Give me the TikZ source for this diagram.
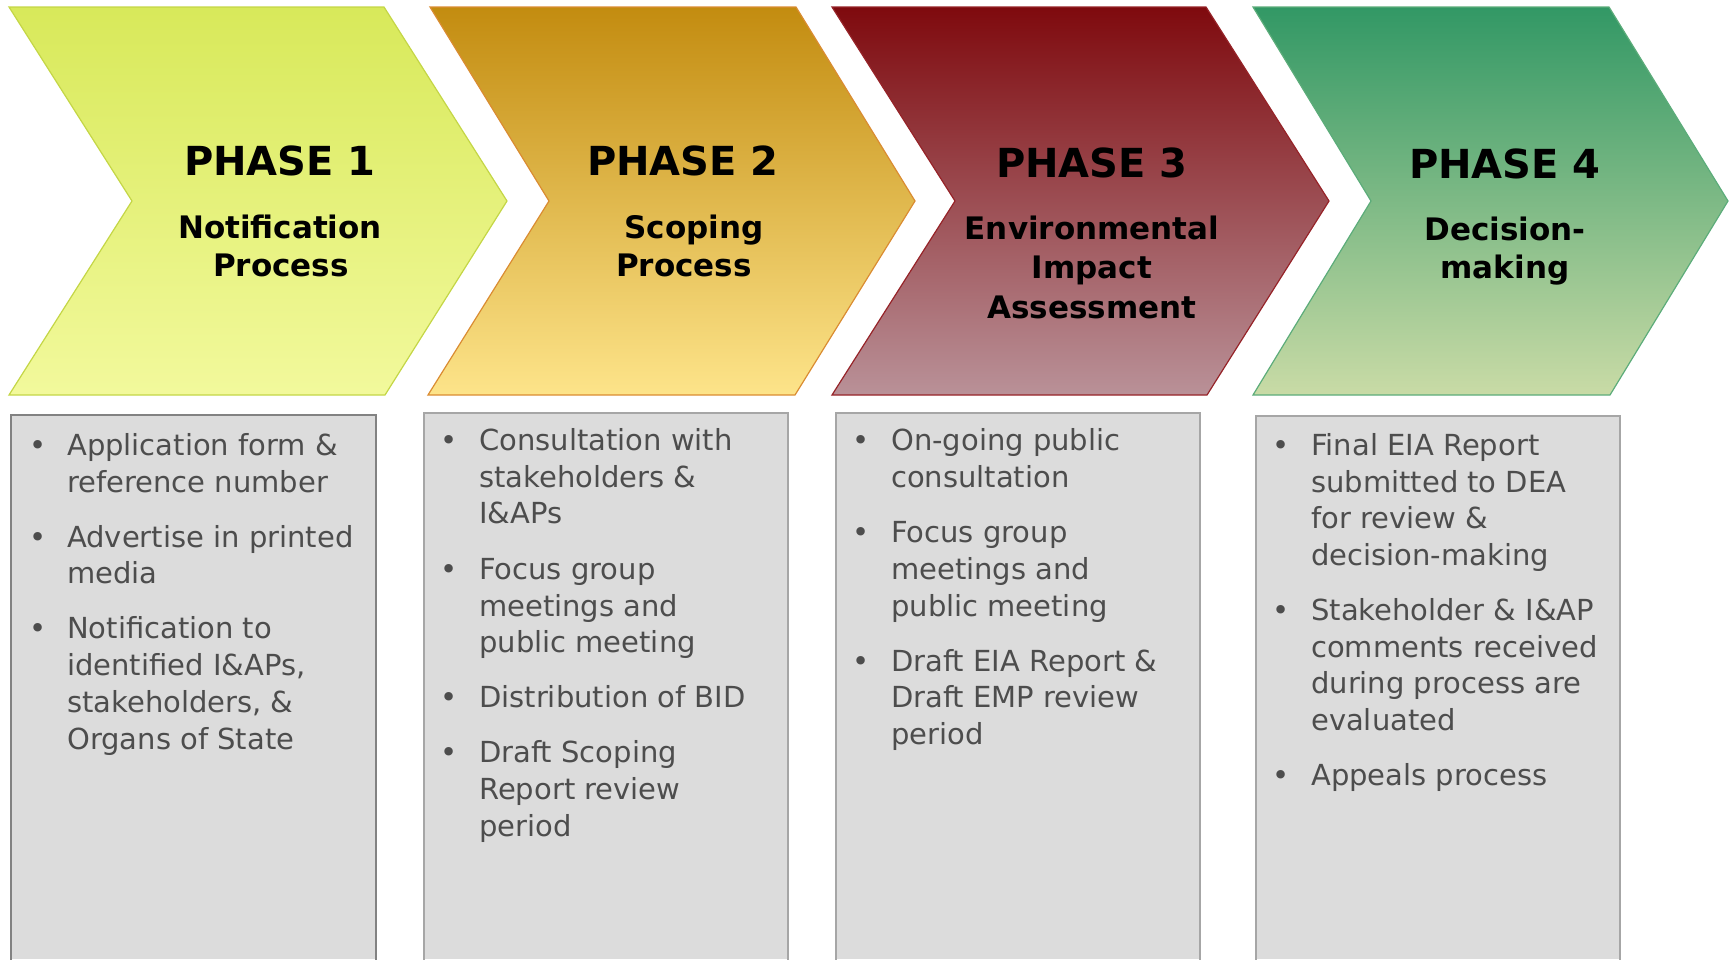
\documentclass[tikz,border=0pt]{standalone}
\usepackage{fontspec}
\setmainfont{DejaVu Sans}
\definecolor{aTop}{RGB}{216,233,90}
\definecolor{aBot}{RGB}{242,249,156}
\definecolor{aLine}{RGB}{196,214,70}
\definecolor{bTop}{RGB}{195,140,16}
\definecolor{bBot}{RGB}{253,228,138}
\definecolor{bLine}{RGB}{218,140,50}
\definecolor{cTop}{RGB}{127,10,14}
\definecolor{cBot}{RGB}{185,145,152}
\definecolor{cLine}{RGB}{150,35,40}
\definecolor{dTop}{RGB}{50,152,101}
\definecolor{dBot}{RGB}{201,219,166}
\definecolor{dLine}{RGB}{92,172,122}
\definecolor{boxFill}{RGB}{220,220,220}
\definecolor{boxLineA}{RGB}{130,130,130}
\definecolor{boxLineB}{RGB}{166,166,166}
\definecolor{bodyText}{RGB}{77,77,77}
\tikzset{
  phase/.style={inner sep=0pt, anchor=base, font=\fontsize{40}{40}\selectfont\bfseries, text=black},
  sub/.style={inner sep=0pt, anchor=base, font=\fontsize{31}{31}\selectfont\bfseries, text=black},
  bodyline/.style={inner sep=0pt, anchor=base west, font=\fontsize{29}{34}\selectfont, text=bodyText},
  bulletmark/.style={inner sep=0pt, anchor=base, font=\fontsize{29}{34}\selectfont, text=bodyText},
  boxfill/.style={fill=boxFill},
}
\begin{document}
\begin{tikzpicture}[x=1pt,y=-1pt]
\useasboundingbox (0,0) rectangle (1729,959);
% chevrons
\draw[draw=aLine, line width=1.2pt, top color=aTop, bottom color=aBot]
  (9,7) -- (384,7) -- (507,201) -- (385,395) -- (9,395) -- (132,201) -- cycle;
\draw[draw=bLine, line width=1.2pt, top color=bTop, bottom color=bBot]
  (430,7) -- (796,7) -- (915,201) -- (795,395) -- (428,395) -- (549,201) -- cycle;
\draw[draw=cLine, line width=1.2pt, top color=cTop, bottom color=cBot]
  (832,7) -- (1206,7) -- (1329,201) -- (1207,395) -- (832,395) -- (955,201) -- cycle;
\draw[draw=dLine, line width=1.2pt, top color=dTop, bottom color=dBot]
  (1253,7) -- (1609,7) -- (1728,201) -- (1610,395) -- (1253,395) -- (1371,201) -- cycle;
% titles
\node[phase] (p1) at (280,175) {PHASE 1};
\node[sub] (p1a) at (280,238) {Notification};
\node[sub] (p1b) at (281,276) {Process};
\node[phase] (p2) at (683,175) {PHASE 2};
\node[sub] (p2a) at (694,238) {Scoping};
\node[sub] (p2b) at (684,276) {Process};
\node[phase] (p3) at (1092,177) {PHASE 3};
\node[sub] (p3a) at (1092,239) {Environmental};
\node[sub] (p3b) at (1092,278) {Impact};
\node[sub] (p3c) at (1092,318) {Assessment};
\node[phase] (p4) at (1505,178) {PHASE 4};
\node[sub] (p4a) at (1505,240) {Decision-};
\node[sub] (p4b) at (1505,278) {making};
% boxes
\fill[boxfill] (11,415) rectangle (376,959);
\draw[boxLineA, line width=2pt] (11,960) -- (11,415) -- (376,415) -- (376,960);
\fill[boxfill] (424,413) rectangle (788,959);
\draw[boxLineB, line width=1.5pt] (424,960) -- (424,413) -- (788,413) -- (788,960);
\fill[boxfill] (836,413) rectangle (1200,959);
\draw[boxLineB, line width=1.5pt] (836,960) -- (836,413) -- (1200,413) -- (1200,960);
\fill[boxfill] (1256,416) rectangle (1620,959);
\draw[boxLineB, line width=1.5pt] (1256,960) -- (1256,416) -- (1620,416) -- (1620,960);
% box 1 text
\node[bulletmark] (k1a) at (38,455) {•};
\node[bodyline] (t1a) at (67,455) {Application form \&};
\node[bodyline] (t1b) at (67,492) {reference number};
\node[bulletmark] (k1b) at (38,547) {•};
\node[bodyline] (t1c) at (67,547) {Advertise in printed};
\node[bodyline] (t1d) at (67,583) {media};
\node[bulletmark] (k1c) at (38,638) {•};
\node[bodyline] (t1e) at (67,638) {Notification to};
\node[bodyline] (t1f) at (67,675) {identified I\&APs,};
\node[bodyline] (t1g) at (67,712) {stakeholders, \&};
\node[bodyline] (t1h) at (67,749) {Organs of State};
% box 2 text
\node[bulletmark] (k2a) at (449,450) {•};
\node[bodyline] (t2a) at (479,450) {Consultation with};
\node[bodyline] (t2b) at (479,487) {stakeholders \&};
\node[bodyline] (t2c) at (479,523) {I\&APs};
\node[bulletmark] (k2b) at (449,579) {•};
\node[bodyline] (t2d) at (479,579) {Focus group};
\node[bodyline] (t2e) at (479,616) {meetings and};
\node[bodyline] (t2f) at (479,652) {public meeting};
\node[bulletmark] (k2c) at (449,707) {•};
\node[bodyline] (t2g) at (479,707) {Distribution of BID};
\node[bulletmark] (k2d) at (449,762) {•};
\node[bodyline] (t2h) at (479,762) {Draft Scoping};
\node[bodyline] (t2i) at (479,799) {Report review};
\node[bodyline] (t2j) at (479,836) {period};
% box 3 text
\node[bulletmark] (k3a) at (861,450) {•};
\node[bodyline] (t3a) at (891,450) {On-going public};
\node[bodyline] (t3b) at (891,487) {consultation};
\node[bulletmark] (k3b) at (861,542) {•};
\node[bodyline] (t3c) at (891,542) {Focus group};
\node[bodyline] (t3d) at (891,579) {meetings and};
\node[bodyline] (t3e) at (891,616) {public meeting};
\node[bulletmark] (k3c) at (861,671) {•};
\node[bodyline] (t3f) at (891,671) {Draft EIA Report \&};
\node[bodyline] (t3g) at (891,707) {Draft EMP review};
\node[bodyline] (t3h) at (891,744) {period};
% box 4 text
\node[bulletmark] (k4a) at (1281,455) {•};
\node[bodyline] (t4a) at (1311,455) {Final EIA Report};
\node[bodyline] (t4b) at (1311,492) {submitted to DEA};
\node[bodyline] (t4c) at (1311,528) {for review \&};
\node[bodyline] (t4d) at (1311,565) {decision-making};
\node[bulletmark] (k4b) at (1281,620) {•};
\node[bodyline] (t4e) at (1311,620) {Stakeholder \& I\&AP};
\node[bodyline] (t4f) at (1311,657) {comments received};
\node[bodyline] (t4g) at (1311,693) {during process are};
\node[bodyline] (t4h) at (1311,730) {evaluated};
\node[bulletmark] (k4c) at (1281,785) {•};
\node[bodyline] (t4i) at (1311,785) {Appeals process};
\end{tikzpicture}
\end{document}
